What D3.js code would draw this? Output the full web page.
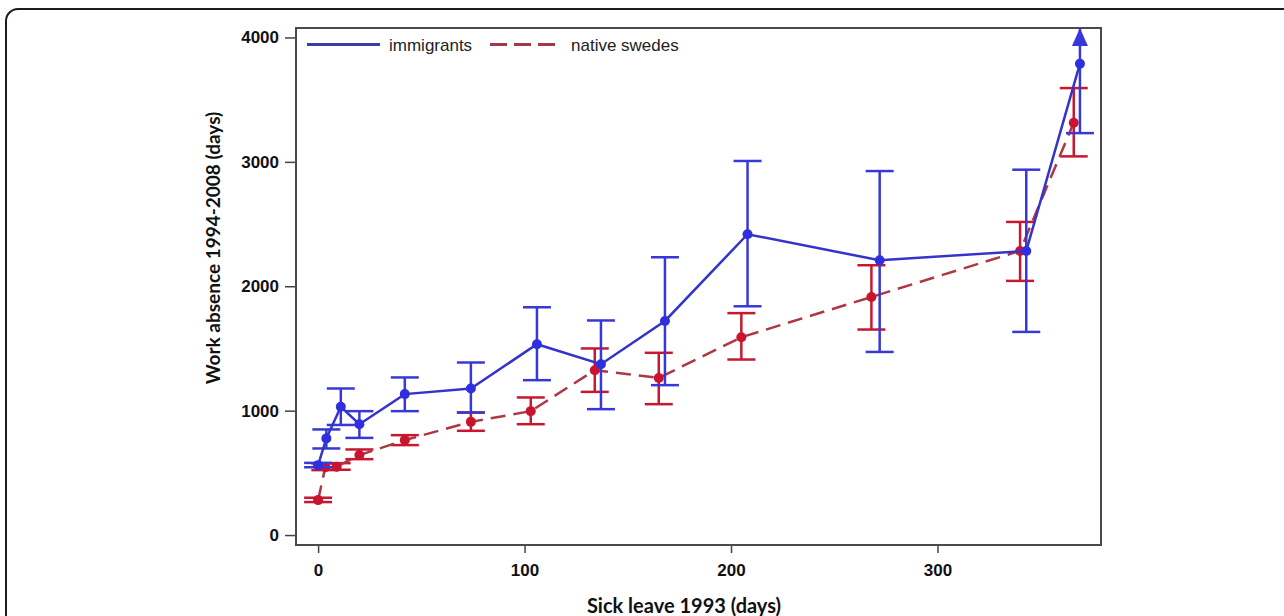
<!DOCTYPE html>
<html>
<head>
<meta charset="utf-8">
<script src="https://cdn.jsdelivr.net/npm/d3@7"></script>
<style>
  html, body { margin: 0; padding: 0; background: #fff; }
  svg { display: block; }
</style>
</head>
<body>
<div id="chart"></div>
<script>
// sick leave 1993 (days) groups
var immX  = [0, 4, 11, 20, 42, 74, 106, 137, 168, 208, 272, 343, 369];
var immY  = [562, 777, 1031, 891, 1133, 1178, 1534, 1373, 1721, 2418, 2209, 2284, 3789];
var immLo = [545, 696, 885, 781, 996, 985, 1245, 1012, 1205, 1839, 1472, 1633, 3231];
var immHi = [580, 849, 1178, 996, 1267, 1387, 1831, 1725, 2233, 3007, 2926, 2937, 4400];

var natX  = [0, 3.5, 9, 20, 42, 74, 103, 134, 165, 205, 268, 340, 366];
var natY  = [281, 545, 550, 643, 763, 910, 996, 1325, 1263, 1590, 1914, 2284, 3315];
var natLo = [265, 522, 525, 610, 723, 838, 891, 1151, 1052, 1411, 1652, 2043, 3044];
var natHi = [300, 576, 578, 688, 803, 985, 1106, 1500, 1465, 1784, 2169, 2517, 3593];

var xTicks = [0, 100, 200, 300];
var yTicks = [0, 1000, 2000, 3000, 4000];
var seriesNames = ["immigrants", "native swedes"];

var W = 1284, H = 616;
var frame = {left: 296, right: 1101, top: 28, bottom: 545};

var svg = d3.select("#chart").append("svg")
  .attr("width", W)
  .attr("height", H);

// outer rounded box of the figure
svg.append("rect")
  .attr("x", 6).attr("y", 9)
  .attr("width", 1400).attr("height", 800)
  .attr("rx", 12)
  .attr("fill", "none")
  .attr("stroke", "#1c1c1c")
  .attr("stroke-width", 2);

var x = d3.scaleLinear().domain([-10.7, 379.2]).range([frame.left, frame.right]);
var y = d3.scaleLinear().domain([-80, 4076]).range([frame.bottom, frame.top]);

var tickFont = "'Liberation Sans', Arial, sans-serif";

// axes
var gy = svg.append("g")
  .attr("transform", "translate(" + frame.left + ",0)")
  .call(d3.axisLeft(y).tickValues(yTicks).tickFormat(d3.format("d")).tickSize(11).tickPadding(6));
var gx = svg.append("g")
  .attr("transform", "translate(0," + frame.bottom + ")")
  .call(d3.axisBottom(x).tickValues(xTicks).tickFormat(d3.format("d")).tickSize(8).tickPadding(11));
[gx, gy].forEach(function(g){
  g.select(".domain").remove();
  g.selectAll("line").attr("stroke", "#444").attr("stroke-width", 1.5);
  g.selectAll("text")
    .attr("fill", "#111")
    .style("font-family", tickFont)
    .style("font-weight", "bold")
    .style("font-size", "17px");
});

// plot frame
svg.append("rect")
  .attr("x", frame.left).attr("y", frame.top)
  .attr("width", frame.right - frame.left)
  .attr("height", frame.bottom - frame.top)
  .attr("fill", "none")
  .attr("stroke", "#4a4a4a")
  .attr("stroke-width", 2);

// titles
svg.append("text")
  .attr("transform", "translate(220,248) rotate(-90)")
  .attr("text-anchor", "middle")
  .style("font-family", "Lato, 'Open Sans', sans-serif")
  .style("font-weight", "bold")
  .style("font-size", "19px")
  .attr("fill", "#111")
  .text("Work absence 1994-2008 (days)");
svg.append("text")
  .attr("x", 684).attr("y", 613)
  .attr("text-anchor", "middle")
  .style("font-family", "Lato, 'Open Sans', sans-serif")
  .style("font-weight", "bold")
  .style("font-size", "20px")
  .attr("fill", "#111")
  .text("Sick leave 1993 (days)");

svg.append("clipPath").attr("id", "plotclip")
  .append("rect")
  .attr("x", frame.left).attr("y", frame.top)
  .attr("width", frame.right - frame.left)
  .attr("height", frame.bottom - frame.top);

var plot = svg.append("g").attr("clip-path", "url(#plotclip)");

function drawSeries(xs, ys, lo, hi, opt) {
  var pts = xs.map(function(d, i){ return {x: d, y: ys[i], lo: lo[i], hi: hi[i]}; });
  var g = plot.append("g");
  var yMax = y.domain()[1];
  var capW = 14;
  // error bars
  pts.forEach(function(p){
    var top = Math.min(p.hi, yMax);
    g.append("line")
      .attr("x1", x(p.x)).attr("x2", x(p.x))
      .attr("y1", y(p.lo)).attr("y2", y(top))
      .attr("stroke", opt.barColor).attr("stroke-width", 2.5);
    g.append("line")
      .attr("x1", x(p.x) - capW).attr("x2", x(p.x) + capW)
      .attr("y1", y(p.lo)).attr("y2", y(p.lo))
      .attr("stroke", opt.barColor).attr("stroke-width", 2.5);
    if (p.hi <= yMax) {
      g.append("line")
        .attr("x1", x(p.x) - capW).attr("x2", x(p.x) + capW)
        .attr("y1", y(p.hi)).attr("y2", y(p.hi))
        .attr("stroke", opt.barColor).attr("stroke-width", 2.5);
    } else {
      // upper limit off the scale: arrow head at the top
      var cx = x(p.x), ty = y(yMax);
      g.append("path")
        .attr("d", "M" + cx + "," + ty + "L" + (cx + 8) + "," + (ty + 18) + "L" + (cx - 8) + "," + (ty + 18) + "Z")
        .attr("fill", opt.barColor);
    }
  });
  var line = d3.line().x(function(d){ return x(d.x); }).y(function(d){ return y(d.y); });
  g.append("path").datum(pts)
    .attr("d", line)
    .attr("fill", "none")
    .attr("stroke", opt.lineColor)
    .attr("stroke-width", 2.5)
    .attr("stroke-dasharray", opt.dash || null);
  g.selectAll("circle").data(pts).enter().append("circle")
    .attr("cx", function(d){ return x(d.x); })
    .attr("cy", function(d){ return y(d.y); })
    .attr("r", 5)
    .attr("fill", opt.dotColor);
}

var natStyle = {lineColor: "#b03644", barColor: "#c8182f", dotColor: "#c8142c", dash: "15,8"};
var immStyle = {lineColor: "#3434cc", barColor: "#3838d8", dotColor: "#2f2fe0"};

drawSeries(natX, natY, natLo, natHi, natStyle);
drawSeries(immX, immY, immLo, immHi, immStyle);

// legend
var lg = svg.append("g");
lg.append("line")
  .attr("x1", 307).attr("x2", 380).attr("y1", 44.5).attr("y2", 44.5)
  .attr("stroke", "#3c3ca8").attr("stroke-width", 3);
lg.append("text")
  .attr("x", 389).attr("y", 50.5)
  .style("font-family", tickFont).style("font-size", "17px")
  .attr("fill", "#222")
  .text(seriesNames[0]);
lg.append("line")
  .attr("x1", 490).attr("x2", 556).attr("y1", 44.5).attr("y2", 44.5)
  .attr("stroke", "#a83848").attr("stroke-width", 3)
  .attr("stroke-dasharray", "17,7");
lg.append("text")
  .attr("x", 571).attr("y", 50.5)
  .style("font-family", tickFont).style("font-size", "17px")
  .attr("fill", "#222")
  .text(seriesNames[1]);
</script>
</body>
</html>
